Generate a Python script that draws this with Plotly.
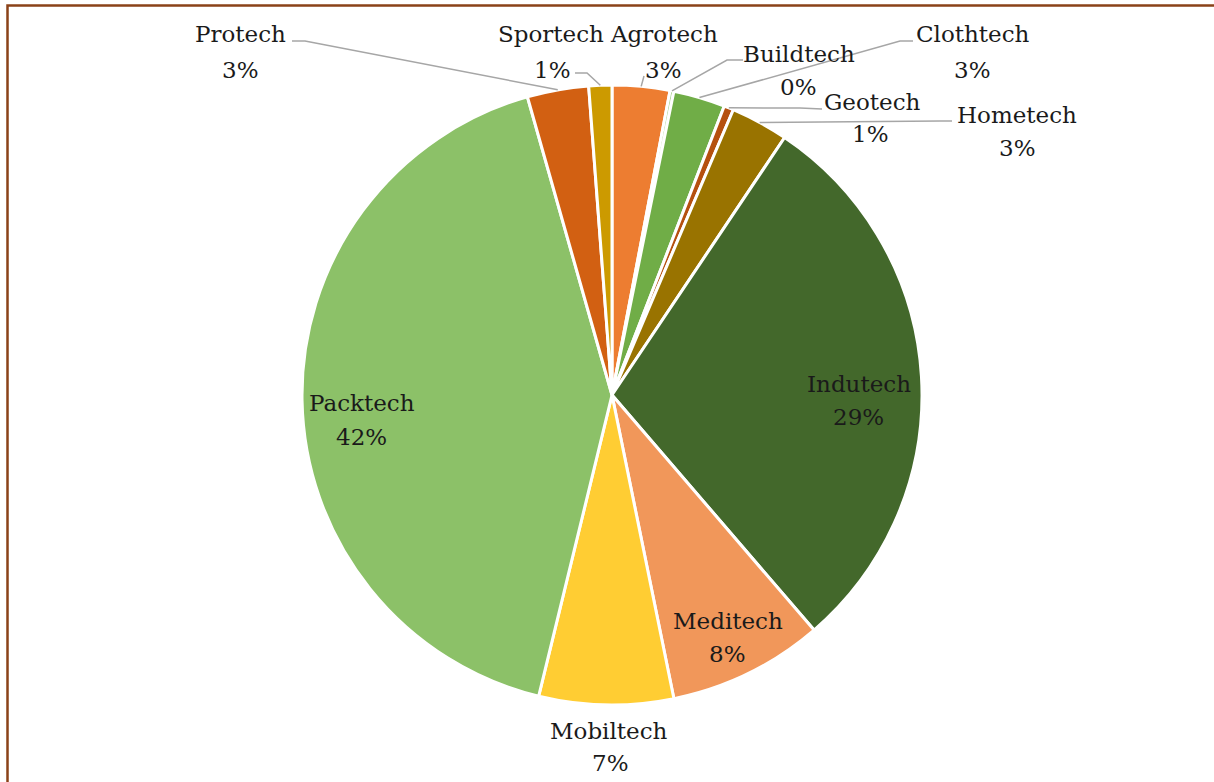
import math
import plotly.graph_objects as go

# ---- data ----
categories = ["Agrotech", "Buildtech", "Clothtech", "Geotech", "Hometech", "Indutech",
              "Meditech", "Mobiltech", "Packtech", "Protech", "Sportech"]
values = [3.0, 0.2, 2.7, 0.5, 3.0, 29.3, 8.1, 7.0, 41.8, 3.2, 1.2]
colors = ["#ED7D31", "#A9D18E", "#70AD47", "#B5500F", "#997300", "#43682B",
          "#F1975A", "#FFCD33", "#8CC168", "#D26012", "#CC9A00"]

W, H = 1214, 782
CX, CY, R = 612, 395, 310
FONT = "DejaVu Serif"
FS = 23
TXT = "#1a1a1a"


def px(x):
    return x / W


def py(y):
    return 1 - y / H


total = sum(values)
pcts = [f"{int(math.floor(v / total * 100 + 0.5))}%" for v in values]

# mid-angle anchor on the pie edge for each slice (clockwise from 12 o'clock)
anchors = {}
cum = 0.0
for c, v in zip(categories, values):
    mid = (cum + v / 2) / total * 2 * math.pi
    anchors[c] = (CX + R * math.sin(mid), CY - R * math.cos(mid))
    cum += v

fig = go.Figure(go.Pie(
    labels=categories, values=values, sort=False, direction="clockwise", rotation=0,
    marker=dict(colors=colors, line=dict(color="white", width=3)),
    textinfo="none", hoverinfo="label+percent", showlegend=False,
    domain=dict(x=[px(CX - R), px(CX + R)], y=[py(CY + R + 1), py(CY - R - 1)]),
))

# label positions (pixel): name centre, percent centre
label_pos = {
    "Protech": ((240, 34), (240, 70)),
    "Sportech": ((551, 34), (552, 70)),
    "Agrotech": ((664, 34), (663, 70)),
    "Buildtech": ((799, 54), (798, 87)),
    "Clothtech": ((973, 34), (972, 70)),
    "Geotech": ((872, 102), (871, 134)),
    "Hometech": ((1017, 115), (1017, 148)),
    "Indutech": ((859, 384), (858, 417)),
    "Meditech": ((728, 621), (727, 654)),
    "Mobiltech": ((609, 731), (610, 763)),
    "Packtech": ((362, 403), (361, 437)),
}

annotations = []
for c, p in zip(categories, pcts):
    (nx, ny), (qx, qy) = label_pos[c]
    annotations.append(dict(x=px(nx), y=py(ny), xref="paper", yref="paper", text=c,
                            showarrow=False, xanchor="center", yanchor="middle",
                            font=dict(family=FONT, size=FS, color=TXT)))
    annotations.append(dict(x=px(qx), y=py(qy), xref="paper", yref="paper", text=p,
                            showarrow=False, xanchor="center", yanchor="middle",
                            font=dict(family=FONT, size=FS, color=TXT)))

# leader lines: label-side points, ending at slice anchor
leaders = {
    "Protech": [(292, 41), (305, 41)],
    "Sportech": [(575, 73), (587, 73)],
    "Agrotech": [(644, 76)],
    "Buildtech": [(743, 60), (727, 60)],
    "Clothtech": [(913, 41), (900, 41)],
    "Geotech": [(822, 109), (800, 108)],
    "Hometech": [(952, 121), (940, 121)],
}
shapes = []
for c, pts in leaders.items():
    ax, ay = anchors[c]
    allpts = pts + [(ax, ay)]
    path = "M " + " L ".join(f"{px(x):.5f},{py(y):.5f}" for x, y in allpts)
    shapes.append(dict(type="path", path=path, xref="paper", yref="paper",
                       line=dict(color="#A6A6A6", width=1.5)))

# outer frame
shapes.append(dict(type="rect", xref="paper", yref="paper",
                   x0=px(7.5), y0=py(820), x1=px(1250), y1=py(5.5),
                   line=dict(color="#8A4218", width=2.5), layer="above"))

fig.update_layout(
    width=W, height=H, margin=dict(l=0, r=0, t=0, b=0),
    paper_bgcolor="white", plot_bgcolor="white",
    annotations=annotations, shapes=shapes,
)

fig.write_html("out.html", config={"displayModeBar": False},
               post_script="document.body.style.margin='0px';document.body.style.overflow='hidden';")
